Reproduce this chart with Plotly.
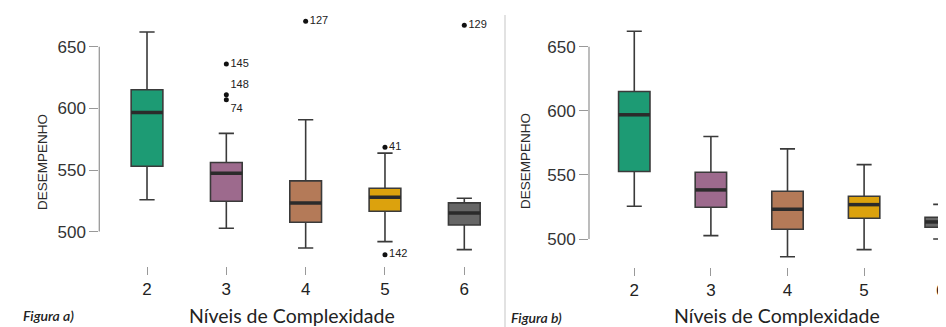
import plotly.graph_objects as go

# ---------------- data ----------------
categories = [2, 3, 4, 5, 6]
colors = ["#1d9b74", "#9d6a8d", "#b47a58", "#dca20d", "#666666"]

# Figura a)
a_lower = [525.8, 502.7, 486.7, 491.9, 485.4]
a_q1 = [553.1, 524.6, 507.6, 516.5, 505.4]
a_median = [596.7, 547.4, 523.3, 527.9, 515.2]
a_q3 = [615.2, 556.1, 541.2, 535.2, 523.3]
a_upper = [662.0, 579.7, 590.8, 563.7, 527.1]
a_out_x = [3, 3, 3, 4, 5, 5, 6]
a_out_y = [636.0, 611.0, 607.0, 670.7, 568.5, 481.3, 667.5]
a_out_lab = ["145", "148", "74", "127", "41", "142", "129"]
a_out_pos = ["middle right", "top right", "bottom right", "middle right",
             "middle right", "middle right", "middle right"]

# Figura b)
b_lower = [525.5, 502.6, 486.2, 491.7, 500.0]
b_q1 = [552.6, 524.8, 507.6, 516.2, 509.2]
b_median = [596.9, 538.3, 523.2, 526.8, 513.3]
b_q3 = [615.1, 552.1, 537.3, 533.4, 517.0]
b_upper = [662.0, 579.9, 570.3, 558.0, 527.0]

y_ticks = [500, 550, 600, 650]
x_title = "Níveis de Complexidade"
y_title = "DESEMPENHO"

# page offset (body margin) compensation
OFF = 8
W, H = 946 - OFF, 327 - OFF
TOP_PAGE, BOT_PAGE = 10, 267
MT = TOP_PAGE - OFF
MB = H - (BOT_PAGE - OFF)
PH = H - MT - MB


def px_x(x):
    return (x - OFF) / W


def px_y(y):
    return (H - MB - (y - OFF)) / PH


fig = go.Figure()

BOX_LINE = "#3a3a3a"
MED = "#2b2b2b"


def add_panel(xa, ya, lower, q1, med, q3, upper, width):
    for c, lo, a, m, b, up, col in zip(categories, lower, q1, med, q3, upper, colors):
        fig.add_trace(go.Box(
            x=[c], lowerfence=[lo], q1=[a], median=[m], q3=[b], upperfence=[up],
            width=width, fillcolor=col, line=dict(color=BOX_LINE, width=1.6),
            whiskerwidth=0.48, boxpoints=False, xaxis=xa, yaxis=ya,
            showlegend=False, hoverinfo="skip"))
    mx, my = [], []
    for c, m in zip(categories, med):
        mx += [c - width / 2, c + width / 2, None]
        my += [m, m, None]
    fig.add_trace(go.Scatter(x=mx, y=my, mode="lines", line=dict(color=MED, width=3.5),
                             xaxis=xa, yaxis=ya, showlegend=False, hoverinfo="skip"))


add_panel("x", "y", a_lower, a_q1, a_median, a_q3, a_upper, 0.40)
add_panel("x2", "y2", b_lower, b_q1, b_median, b_q3, b_upper, 0.41)

fig.add_trace(go.Scatter(
    x=a_out_x, y=a_out_y, mode="markers+text", text=a_out_lab,
    textposition=a_out_pos, marker=dict(color="#111111", size=5),
    textfont=dict(family="Liberation Sans", size=11, color="#222222"),
    xaxis="x", yaxis="y", showlegend=False, hoverinfo="skip", cliponaxis=False))

axis_common = dict(showgrid=False, zeroline=False, showline=False, ticks="outside",
                   tickcolor="#999999", tickwidth=1.3, ticklen=8)

left_bottom_page = 265.7
fig.update_layout(
    width=W, height=H, margin=dict(l=0, r=0, t=MT, b=MB, autoexpand=False),
    paper_bgcolor="white", plot_bgcolor="white", boxmode="overlay",
    xaxis=dict(domain=[px_x(99.3), px_x(495)], range=[1.3985, 6.387],
               tickvals=categories, ticktext=[str(c) for c in categories],
               tickfont=dict(family="Liberation Sans", size=17, color="#222222"),
               anchor="y", **axis_common),
    yaxis=dict(domain=[(BOT_PAGE - left_bottom_page) / PH, 1], range=[472.33, 679.87],
               tickvals=y_ticks,
               tickfont=dict(family="Liberation Sans", size=17, color="#333333"),
               anchor="x", **{**axis_common, "ticklen": 9}),
    xaxis2=dict(domain=[px_x(589), 1], range=[1.409, 6.069],
                tickvals=categories, ticktext=[str(c) for c in categories],
                tickfont=dict(family="Liberation Sans", size=17, color="#222222"),
                anchor="y2", **axis_common),
    yaxis2=dict(domain=[0, 1], range=[478.16, 678.63], tickvals=y_ticks,
                tickfont=dict(family="Liberation Sans", size=17, color="#333333"),
                anchor="x2", **{**axis_common, "ticklen": 9}),
)

# y axis lines spanning only the tick range (R style)
for xd, yr in (("x domain", "y"), ("x2 domain", "y2")):
    fig.add_shape(type="line", xref=xd, yref=yr, x0=0, x1=0,
                  y0=y_ticks[0], y1=y_ticks[-1], line=dict(color="#999999", width=1.3))

# separator between the two figures
fig.add_shape(type="line", xref="paper", yref="paper", x0=px_x(505), x1=px_x(505),
              y0=px_y(15), y1=px_y(330), line=dict(color="#e2e2e2", width=2))

ann = []
for cx, cy in ((292, 315.5), (777, 315.5)):
    ann.append(dict(text=x_title, x=px_x(cx), y=px_y(cy), xref="paper", yref="paper",
                    showarrow=False, xanchor="center", yanchor="middle",
                    font=dict(family="Lato", size=19.5, color="#222222")))
for cx, cy in ((42, 162), (525, 161)):
    ann.append(dict(text=y_title, x=px_x(cx), y=px_y(cy), xref="paper", yref="paper",
                    showarrow=False, xanchor="center", yanchor="middle", textangle=-90,
                    font=dict(family="Liberation Sans", size=13.5, color="#2a2a2a")))
for txt, cx, cy in (("<i>Figura a)</i>", 21, 315), ("<i>Figura b)</i>", 509, 317)):
    ann.append(dict(text=txt, x=px_x(cx), y=px_y(cy), xref="paper", yref="paper",
                    showarrow=False, xanchor="left", yanchor="middle",
                    font=dict(family="Lato", size=14, color="#222222", weight=600)))
fig.update_layout(annotations=ann)

fig.write_html("out.html")
